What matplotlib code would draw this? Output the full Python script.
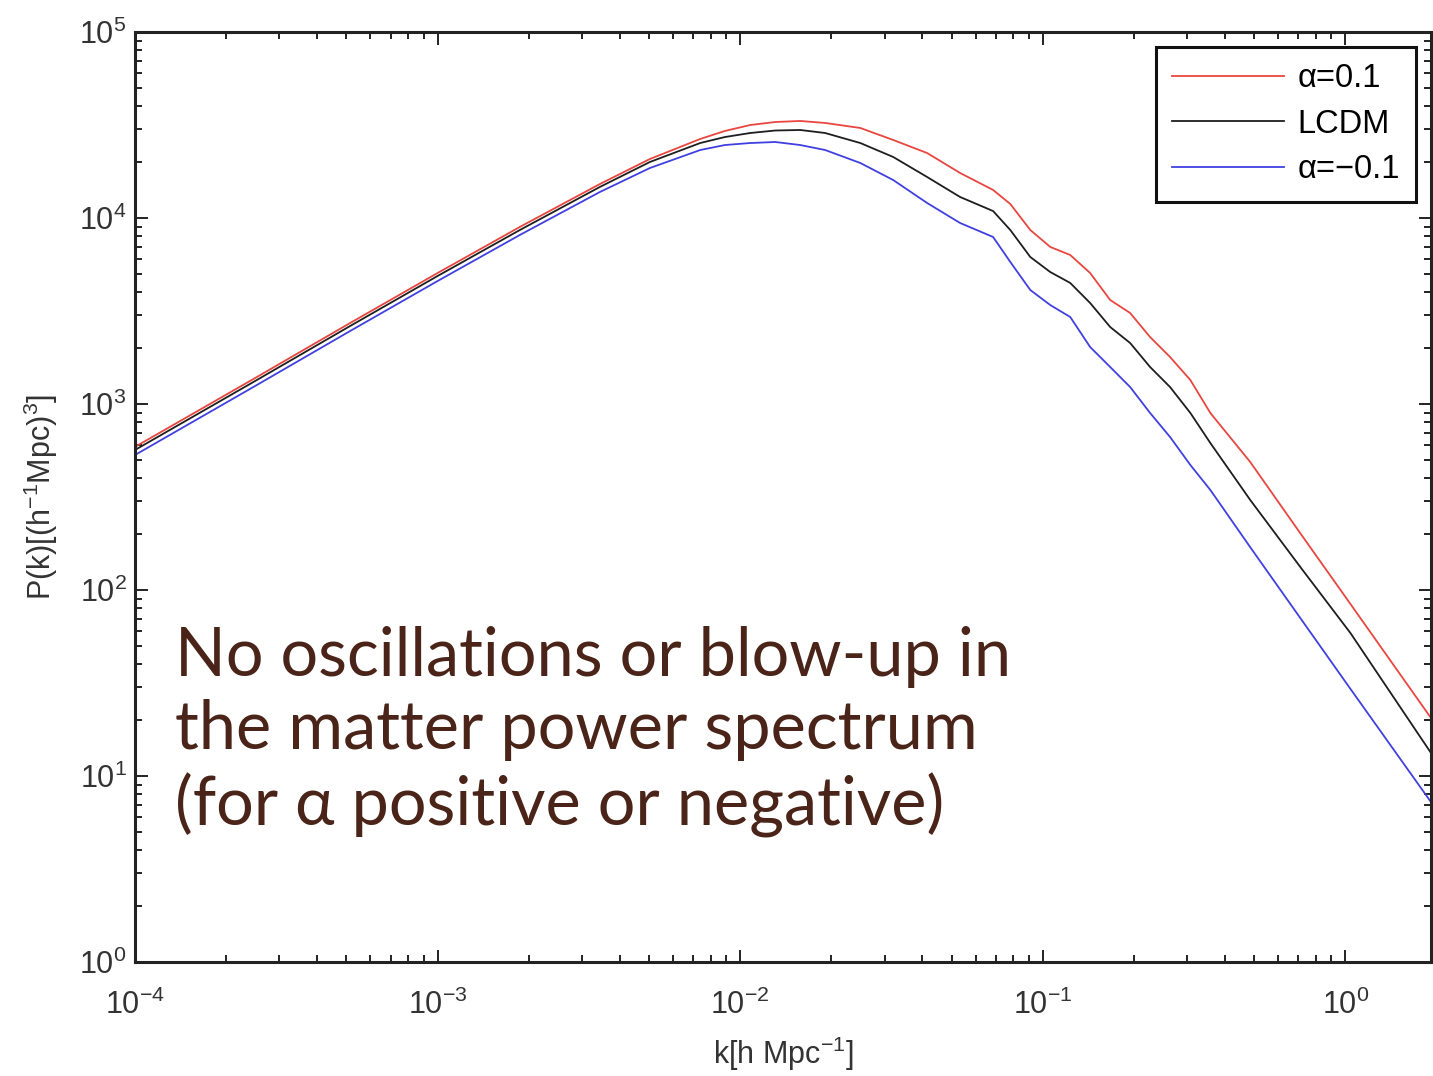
import numpy as np
import matplotlib
matplotlib.use("Agg")
import matplotlib.pyplot as plt
from matplotlib.ticker import LogLocator, NullFormatter

# wavenumber k [h/Mpc], shared by the three curves
k = [1.0e-4, 2.40e-4, 5.14e-4, 1.0e-3, 1.87e-3, 3.44e-3, 5.03e-3, 7.38e-3,
     8.91e-3, 0.0108, 0.01306, 0.0158, 0.0191, 0.02495, 0.03206, 0.0415,
     0.05333, 0.06855, 0.07816, 0.09099, 0.1059, 0.1233, 0.1435, 0.1671,
     0.1945, 0.2264, 0.2635, 0.3076, 0.3581, 0.485, 0.710, 1.04, 1.92]

# P(k) for alpha = 0.1
p_alpha_pos = [588, 1330, 2725, 5060, 8950, 15230, 20750, 26600,
               29380, 31620, 32820, 33240, 32430, 30480, 26270, 22350,
               17460, 14150, 11890, 8616, 6990, 6325, 5060, 3623,
               3085, 2291, 1790, 1346, 895, 488, 202, 84.1, 20.5]

# P(k) for LCDM
p_lcdm = [566, 1282, 2626, 4877, 8616, 14690, 20000, 25300,
          27250, 28640, 29540, 29730, 28640, 25300, 21280, 16610,
          12970, 10900, 8616, 6170, 5124, 4475, 3490, 2594,
          2128, 1581, 1234, 895, 617, 305, 133, 58.7, 13.3]

# P(k) for alpha = -0.1
p_alpha_neg = [532, 1205, 2468, 4583, 8103, 13800, 18560, 23200,
               24680, 25300, 25620, 24680, 23200, 19760, 16000, 12040,
               9400, 7907, 5800, 4100, 3405, 2936, 2024, 1581,
               1234, 895, 665, 470, 345, 170, 70.7, 29.4, 7.24]

labels = ["\u03b1=0.1", "LCDM", "\u03b1=\u22120.1"]
note = ("No oscillations or blow-up in\n"
        "the matter power spectrum\n"
        "(for \u03b1 positive or negative)")

plt.rcParams["font.family"] = ["Liberation Sans", "DejaVu Sans"]
plt.rcParams["mathtext.fontset"] = "custom"
plt.rcParams["mathtext.rm"] = "Liberation Sans"
plt.rcParams["mathtext.it"] = "Liberation Sans:italic"
plt.rcParams["mathtext.bf"] = "Liberation Sans:bold"

fig = plt.figure(figsize=(14.33, 10.76), dpi=100)
ax = fig.add_axes([135 / 1433, 1 - 962 / 1076, 1296 / 1433, 930 / 1076])

ax.plot(k, p_alpha_pos, color="#e8463f", lw=1.3, label=labels[0])
ax.plot(k, p_lcdm, color="#1e1e1e", lw=1.3, label=labels[1])
ax.plot(k, p_alpha_neg, color="#4040e0", lw=1.3, label=labels[2])

ax.set_xscale("log")
ax.set_yscale("log")
ax.set_xlim(1e-4, 1.92)
ax.set_ylim(1, 1e5)

ax.xaxis.set_major_locator(LogLocator(base=10, numticks=10))
ax.yaxis.set_major_locator(LogLocator(base=10, numticks=10))
ax.xaxis.set_minor_locator(LogLocator(base=10, subs=np.arange(2, 10), numticks=20))
ax.yaxis.set_minor_locator(LogLocator(base=10, subs=np.arange(2, 10), numticks=20))
ax.xaxis.set_minor_formatter(NullFormatter())
ax.yaxis.set_minor_formatter(NullFormatter())

ax.tick_params(which="both", direction="in", top=True, right=True,
               colors="#222222", labelcolor="#333333", width=1.4)
ax.tick_params(which="major", length=9, labelsize=22)
ax.tick_params(which="minor", length=5)
ax.tick_params(axis="x", which="major", pad=20)
ax.tick_params(axis="y", which="major", pad=6)
for sp in ax.spines.values():
    sp.set_linewidth(2.2)
    sp.set_color("#222222")

ax.set_xlabel("k[h Mpc$^{-1}$]", fontsize=22, color="#333333", labelpad=10)
ax.set_ylabel("P(k)[(h$^{-1}$Mpc)$^{3}$]", fontsize=22, color="#333333", labelpad=14)

leg = ax.legend(loc="upper right", fontsize=23.5, handlelength=3.45,
                fancybox=False, framealpha=1, edgecolor="#111111",
                borderaxespad=0.45, labelspacing=0.45, handletextpad=0.4,
                borderpad=0.5)
leg.get_frame().set_linewidth(2.2)

ax.text(0.031, 0.361, note, transform=ax.transAxes, va="top", ha="left",
        fontsize=48, color="#4a2418", linespacing=1.22,
        family=["Lato", "DejaVu Sans"])

fig.savefig("out.png", dpi=100)
print("Saved: out.png")
